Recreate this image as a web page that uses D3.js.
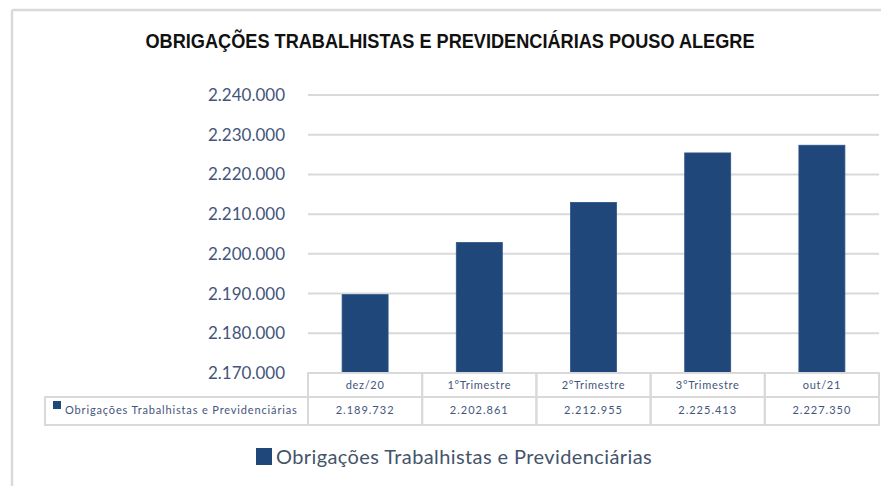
<!DOCTYPE html>
<html>
<head>
<meta charset="utf-8">
<script src="https://cdn.jsdelivr.net/npm/d3@7"></script>
<style>
  body { margin: 0; background: #fff; }
  svg { display: block; }
</style>
</head>
<body>
<svg width="881" height="486"></svg>
<script>
// dados
const categorias = ['dez/20', '1°Trimestre', '2°Trimestre', '3°Trimestre', 'out/21'];
const valores = [2189732, 2202861, 2212955, 2225413, 2227350];
const serie = 'Obrigações Trabalhistas e Previdenciárias';
const titulo = 'OBRIGAÇÕES TRABALHISTAS E PREVIDENCIÁRIAS POUSO ALEGRE';
const yTicks = [2170000, 2180000, 2190000, 2200000, 2210000, 2220000, 2230000, 2240000];

const pt = d3.formatLocale({ decimal: ',', thousands: '.', grouping: [3], currency: ['R$', ''] });
const fmt = pt.format(',d');

const svg = d3.select('svg');
const azul = '#1f477a';
const cinza = '#d9d9d9';
const texto = '#44557c';

// moldura
svg.append('line').attr('x1', 12).attr('x2', 881).attr('y1', 10).attr('y2', 10)
  .attr('stroke', cinza).attr('stroke-width', 2.5);
svg.append('line').attr('x1', 12).attr('x2', 12).attr('y1', 10).attr('y2', 486)
  .attr('stroke', cinza).attr('stroke-width', 2.5);

svg.append('text')
  .attr('x', 450).attr('y', 48)
  .attr('text-anchor', 'middle')
  .attr('font-family', '"Liberation Sans Narrow", "Liberation Sans", sans-serif')
  .attr('font-weight', 'bold')
  .attr('font-size', 20)
  .attr('textLength', 609)
  .attr('lengthAdjust', 'spacingAndGlyphs')
  .attr('fill', '#111')
  .text(titulo);

const x = d3.scaleBand().domain(categorias).range([308, 879]);
const y = d3.scaleLinear().domain([2170000, 2240000]).range([373, 95]);

// grade
svg.append('g').selectAll('line').data(yTicks.slice(1)).join('line')
  .attr('x1', 308).attr('x2', 879)
  .attr('y1', d => y(d)).attr('y2', d => y(d))
  .attr('stroke', cinza).attr('stroke-width', 2);

// eixo y
const yAxis = svg.append('g')
  .attr('transform', 'translate(285,0)')
  .call(d3.axisLeft(y).tickValues(yTicks).tickFormat(fmt).tickSize(0).tickPadding(0));
yAxis.select('.domain').remove();
yAxis.selectAll('text')
  .attr('font-family', 'Lato, sans-serif')
  .attr('font-size', 17)
  .attr('fill', texto);

// barras
const bw = 46;
svg.append('g').selectAll('rect').data(valores).join('rect')
  .attr('x', (d, i) => x(categorias[i]) + x.bandwidth() / 2 - bw / 2)
  .attr('y', d => y(d))
  .attr('width', bw)
  .attr('height', d => y(2170000) - y(d))
  .attr('fill', azul)
  .attr('stroke', '#2c5488').attr('stroke-width', 0.8);

// tabela de dados
const r1 = 373, r2 = 397, r3 = 425;
const tab = svg.append('g');
const celStyle = s => s.attr('fill', 'none').attr('stroke', cinza).attr('stroke-width', 2);

tab.selectAll('rect.cab').data(categorias).join('rect')
  .attr('class', 'cab')
  .attr('x', d => x(d)).attr('y', r1)
  .attr('width', x.bandwidth()).attr('height', r2 - r1)
  .call(celStyle);
tab.selectAll('rect.val').data(categorias).join('rect')
  .attr('class', 'val')
  .attr('x', d => x(d)).attr('y', r2)
  .attr('width', x.bandwidth()).attr('height', r3 - r2)
  .call(celStyle);
tab.append('rect')
  .attr('x', 45).attr('y', r2).attr('width', 308 - 45).attr('height', r3 - r2)
  .call(celStyle);

tab.selectAll('text.cab').data(categorias).join('text')
  .attr('class', 'cab')
  .attr('x', d => x(d) + x.bandwidth() / 2).attr('y', r1 + 16)
  .attr('text-anchor', 'middle')
  .attr('font-family', 'Lato, sans-serif').attr('font-size', 11)
  .attr('letter-spacing', 0.7)
  .attr('fill', texto)
  .text(d => d);
tab.selectAll('text.val').data(valores).join('text')
  .attr('class', 'val')
  .attr('x', (d, i) => x(categorias[i]) + x.bandwidth() / 2).attr('y', r2 + 17)
  .attr('text-anchor', 'middle')
  .attr('font-family', 'Lato, sans-serif').attr('font-size', 11)
  .attr('letter-spacing', 1)
  .attr('fill', texto)
  .text(d => fmt(d));

tab.append('rect').attr('x', 53).attr('y', 401).attr('width', 8).attr('height', 8).attr('fill', azul);
tab.append('text')
  .attr('x', 65).attr('y', r2 + 17)
  .attr('font-family', 'Lato, sans-serif').attr('font-size', 11)
  .attr('letter-spacing', 0.85)
  .attr('fill', texto)
  .text(serie);

// legenda
svg.append('rect').attr('x', 256).attr('y', 448).attr('width', 16).attr('height', 17).attr('fill', azul);
svg.append('text')
  .attr('x', 276).attr('y', 464)
  .attr('font-family', 'Lato, sans-serif').attr('font-size', 20)
  .attr('letter-spacing', 0.4)
  .attr('fill', '#44546a')
  .text(serie);
</script>
</body>
</html>
